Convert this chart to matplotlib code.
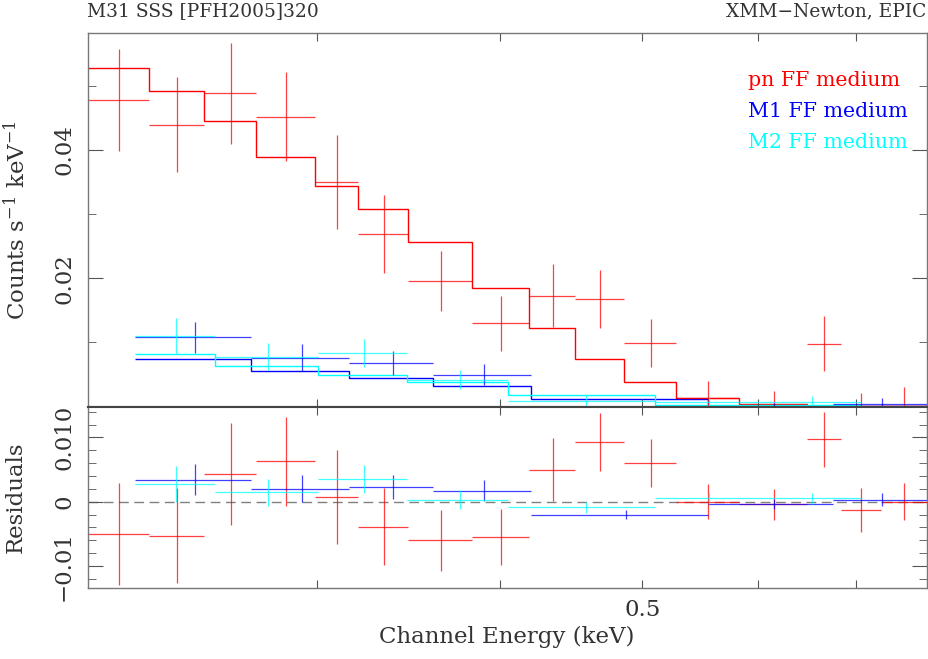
import numpy as np
import matplotlib.pyplot as plt
from matplotlib.ticker import FixedLocator, FixedFormatter, NullFormatter

plt.rcParams['font.family'] = ['DejaVu Serif']
plt.rcParams['mathtext.fontset'] = 'dejavuserif'

# pn: bin edges (keV), data rate, 1-sigma error, folded model
pn_edges = np.array([0.2090, 0.2302, 0.2512, 0.2725, 0.2988, 0.3197, 0.3461, 0.3825, 0.4186,
                     0.4498, 0.4859, 0.5271, 0.5825, 0.6479, 0.6829, 0.7278, 0.7820])
pn_rate = np.array([0.0478, 0.0439, 0.0488, 0.0452, 0.0350, 0.0269, 0.0196, 0.0130,
                    0.0173, 0.0168, 0.0099, 0.0013, 0.0000, 0.0098, -0.0012, 0.0001])
pn_err = np.array([0.0079, 0.0074, 0.0079, 0.0069, 0.0073, 0.0060, 0.0047, 0.0043,
                   0.0049, 0.0045, 0.0037, 0.0027, 0.0024, 0.0043, 0.0034, 0.0029])
pn_model = np.array([0.0528, 0.0492, 0.0445, 0.0389, 0.0343, 0.0308, 0.0256, 0.0185,
                     0.0123, 0.0075, 0.0039, 0.0013, 0.0004, 0.0001, 0.0001, 0.0001])

# MOS1
m1_edges = np.array([0.2252, 0.2701, 0.3152, 0.3600, 0.4199, 0.5548, 0.6750, 0.7820])
m1_rate = np.array([0.0108, 0.0076, 0.0068, 0.0050, -0.0008, -0.0003, 0.0004])
m1_err = np.array([0.0024, 0.0021, 0.0019, 0.0016, 0.0007, 0.0008, 0.0010])
m1_model = np.array([0.0074, 0.0056, 0.0045, 0.0033, 0.0012, 0.0001, 0.0001])

# MOS2
m2_edges = np.array([0.2252, 0.2553, 0.3002, 0.3453, 0.4050, 0.5102, 0.6002, 0.7051])
m2_rate = np.array([0.0110, 0.0078, 0.0084, 0.0042, 0.0009, 0.0008, 0.0008])
m2_err = np.array([0.0028, 0.0021, 0.0022, 0.0015, 0.0009, 0.0009, 0.0008])
m2_model = np.array([0.0082, 0.0063, 0.0049, 0.0039, 0.0018, 0.0003, 0.0003])

datasets = [
    (pn_edges, pn_rate, pn_err, pn_model, '#ff0000', 'pn FF medium'),
    (m1_edges, m1_rate, m1_err, m1_model, '#0000ff', 'M1 FF medium'),
    (m2_edges, m2_rate, m2_err, m2_model, '#00ffff', 'M2 FF medium'),
]

x_ticks = [0.3, 0.4, 0.5, 0.6, 0.7]
x_ticklabels = ['', '', '0.5', '', '']
xlim = (0.2090, 0.7816)

LABEL_FS = 16.5
fig = plt.figure(figsize=(9.29, 6.59), dpi=100)
ax_top = fig.add_axes([0.09419, 0.38285, 0.90312, 0.56662])
ax_bot = fig.add_axes([0.09419, 0.10819, 0.90312, 0.27466])

for edges, rate, err, model, color, label in datasets:
    centre = 0.5 * (edges[:-1] + edges[1:])
    xerr = [centre - edges[:-1], edges[1:] - centre]
    ax_top.errorbar(centre, rate, xerr=xerr, yerr=err, fmt='none', ecolor=color,
                    elinewidth=0.9, alpha=0.75, capsize=0)
    ax_top.stairs(model, edges, baseline=None, color=color, lw=1.0)
    ax_bot.errorbar(centre, rate - model, xerr=xerr, yerr=err, fmt='none', ecolor=color,
                    elinewidth=0.9, alpha=0.75, capsize=0)

ax_bot.axhline(0, color='#808080', lw=1.0, ls=(0, (7, 4)), zorder=0)

# legend as coloured text
for k, (_, _, _, _, color, label) in enumerate(datasets):
    ax_top.text(0.787, 0.873 - k * 0.083, label, color=color, fontsize=14.8,
                transform=ax_top.transAxes, va='center', ha='left')

for ax in (ax_top, ax_bot):
    ax.set_xscale('log')
    ax.set_xlim(*xlim)
    ax.xaxis.set_major_locator(FixedLocator(x_ticks))
    ax.xaxis.set_minor_locator(FixedLocator([]))
    ax.tick_params(which='both', direction='in', top=True, right=True, color='#555555',
                   labelsize=LABEL_FS, labelcolor='#333333')
    ax.tick_params(axis='x', which='major', length=6)
    ax.tick_params(axis='y', which='major', length=11, pad=9)
    ax.tick_params(axis='y', which='minor', length=5.5)
    for s in ax.spines.values():
        s.set_color('#777777')
        s.set_linewidth(1.0)

ax_top.spines['bottom'].set_color('#444444')
ax_top.spines['bottom'].set_linewidth(1.5)
ax_bot.spines['top'].set_color('#444444')
ax_bot.spines['top'].set_linewidth(1.5)

ax_top.xaxis.set_major_formatter(NullFormatter())
ax_bot.xaxis.set_major_formatter(FixedFormatter(x_ticklabels))
ax_bot.tick_params(axis='x', pad=8)

ax_top.set_ylim(0, 0.05816)
ax_top.yaxis.set_major_locator(FixedLocator([0.02, 0.04]))
ax_top.yaxis.set_minor_locator(FixedLocator([0.01, 0.03, 0.05]))
ax_top.yaxis.set_major_formatter(FixedFormatter(['0.02', '0.04']))

ax_bot.set_ylim(-0.01337, 0.01477)
ax_bot.yaxis.set_major_locator(FixedLocator([-0.01, 0.0, 0.01]))
ax_bot.yaxis.set_minor_locator(FixedLocator([-0.012, -0.008, -0.006, -0.004, -0.002,
                                             0.002, 0.004, 0.006, 0.008, 0.012, 0.014]))
ax_bot.yaxis.set_major_formatter(FixedFormatter(['\u22120.01', '0', '0.010']))

for ax in (ax_top, ax_bot):
    for t in ax.get_yticklabels():
        t.set_rotation(90)
        t.set_va('center')
        t.set_ha('right')

ax_top.set_ylabel('Counts s$^{-1}$ keV$^{-1}$', fontsize=LABEL_FS, color='#333333', va='center')
ax_top.yaxis.set_label_coords(-0.085, 0.5)
ax_bot.set_ylabel('Residuals', fontsize=LABEL_FS, color='#333333', va='center')
ax_bot.yaxis.set_label_coords(-0.085, 0.5)
ax_bot.set_xlabel('Channel Energy (keV)', fontsize=LABEL_FS, color='#333333', va='center')
ax_bot.xaxis.set_label_coords(0.5, -0.27)

fig.text(87.5 / 929, 1 - 11 / 659, 'M31 SSS [PFH2005]320', fontsize=13.4, color='#333333',
         ha='left', va='center')
fig.text(926.5 / 929, 1 - 11 / 659, 'XMM\u2212Newton, EPIC', fontsize=13.4, color='#333333',
         ha='right', va='center')

fig.savefig('out.png', dpi=100)
